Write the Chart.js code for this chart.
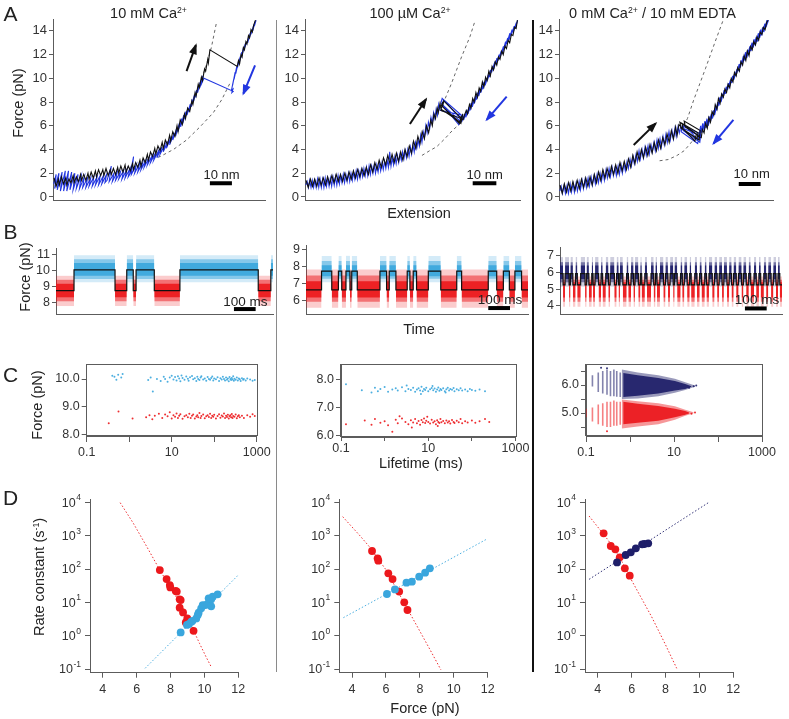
<!DOCTYPE html>
<html><head><meta charset="utf-8">
<script src="https://cdn.jsdelivr.net/npm/chart.js@4.4.1/dist/chart.umd.min.js"></script>
<style>
html,body{margin:0;padding:0;background:#fff}
body{width:789px;height:719px;position:relative;overflow:hidden;font-family:"Liberation Sans",Arial,Helvetica,sans-serif;color:#222}
canvas{position:absolute}
.t{position:absolute;white-space:nowrap;transform:translate(-50%,-50%);line-height:1}
.r{transform:translate(-50%,-50%) rotate(-90deg)}
sup{font-size:0.6em;vertical-align:0.6em;line-height:0}
.v{position:absolute;width:1.5px}
</style></head><body>
<script>
// ================= DATA =================
const aTicks = [0,2,4,6,8,10,12,14];
// Row A: force-extension traces [extension(nm), force(pN)]
const a1Stretch = [[0.5,1.6],[1.5,0.9],[2.5,1.5],[3,1.0],[4,1.7],[5,1.1],[6,1.6],[6.5,1.0],[7.5,1.5],[8.5,1.2],[9.5,1.8],[10,1.2],[11,1.7],[12,1.3],[13,1.9],[13.5,1.4],[14.5,1.9],[15.5,1.4],[16.5,2.0],[17,1.5],[18,2.1],[19,1.6],[20,2.2],[20.5,1.7],[21.5,2.3],[22.5,1.8],[23.5,2.3],[24,1.8],[25,2.4],[26,1.8],[27,2.3],[27.5,1.9],[28.5,2.4],[29.5,1.9],[30.5,2.5],[31,2.0],[32,2.6],[33,2.1],[34,2.7],[34.5,2.1],[35.5,2.6],[36.5,2.2],[37.5,2.8],[38,2.3],[39,2.9],[40,2.5],[41,3.1],[41.5,2.6],[42.5,3.3],[43.5,2.9],[44.5,3.6],[45,3.1],[46,3.8],[47,3.4],[48,4.1],[48.5,3.6],[49.5,4.3],[50.5,3.9],[51.5,4.6],[52,4.1],[53,4.8],[54,4.4],[55,5.2],[55.5,4.7],[56.5,5.5],[57.5,5.1],[58.5,6.0],[59,5.5],[60,6.5],[61,6.1],[62,7.0],[62.5,6.6],[63.5,7.5],[64.5,7.2],[65.5,8.1],[66,7.8],[67,8.8],[67.5,8.5],[68.5,9.5],[69,9.2],[70,10.1],[70.5,9.8],[71.5,10.8],[72,10.6],[73,11.6],[73.3,11.3],[74,12.4],[86.9,11.0],[87.5,11.5],[88,11.2],[88.7,12.0],[89.2,11.8],[89.8,12.6],[90.3,12.4],[91,13.1],[91.5,12.9],[92.2,13.6],[92.7,13.4],[93.4,14.1],[94,13.9],[94.7,14.5],[95.5,14.9]];
const a1Relax = [[95.8,14.9],[95.0,14.4],[95.4,14.8],[94.2,14.0],[94.7,14.5],[93.4,13.7],[93.9,14.1],[92.6,13.4],[93.1,13.8],[91.8,13.0],[92.3,13.4],[91.0,12.8],[91.5,13.1],[90.2,12.5],[90.7,12.9],[89.4,12.1],[89.9,12.6],[88.6,11.7],[89.1,12.2],[87.8,11.3],[88.3,11.8],[87.0,10.9],[87.5,11.4],[86.2,10.4],[86.7,11.0],[85.4,9.9],[85.9,10.5],[84.7,9.4],[85.2,9.9],[84.2,9.0],[84.9,9.1],[84.4,8.8],[85.0,8.9],[71.2,10.0],[70.2,9.6],[70.7,10.2],[69.2,9.2],[69.7,9.8],[68.2,8.8],[68.7,9.4],[67.2,8.4],[67.7,9.0],[66.2,8.0],[66.7,8.6],[65.2,7.6],[65.7,8.2],[64.2,7.2],[64.7,7.8],[63.2,6.9],[63.7,7.5],[62.2,6.6],[62.7,7.2],[61.2,6.2],[61.7,6.9],[60.2,5.9],[60.7,6.6],[59,5.5],[59.6,6.2],[57.8,5.1],[58.4,5.8],[56.5,4.8],[57.2,5.4],[55,4.4],[55.8,5.1],[53.5,4.1],[54.3,4.7],[52,3.8],[52.8,4.4],[50.5,3.6],[51.3,4.2],[49,3.3],[49.8,3.9],[47.5,3.1],[48.3,3.7],[46,2.9],[46.8,3.5],[44.5,2.7],[45.3,3.3],[43,2.5],[43.8,3.1],[41.5,2.3],[42.3,2.9],[40,2.1],[40.8,2.8],[38.5,2.0],[39.3,2.7],[37,1.9],[38,3.4],[36.5,2.0],[35.5,1.7],[36.3,2.4],[34,1.6],[34.8,2.3],[32.5,1.5],[33.3,2.2],[31,1.5],[31.8,2.1],[29.5,1.4],[30.3,2.1],[28,1.3],[28.8,2.0],[26.5,1.3],[27.5,2.6],[25.5,1.4],[24.5,1.2],[25.3,1.9],[23,1.1],[23.8,1.8],[21.5,1.0],[22.3,1.8],[20,1.0],[20.8,1.7],[18.5,0.9],[19.3,1.7],[17,0.9],[17.8,1.6],[15.5,0.8],[16.3,1.6],[14,0.8],[14.8,1.7],[12.5,0.7],[13.3,1.8],[11,0.7],[11.8,1.9],[9.5,0.6],[10.3,2.0],[8,0.6],[8.8,2.1],[6.5,0.5],[7.3,2.2],[5,0.5],[5.8,2.2],[3.5,0.5],[4.3,2.1],[2,0.6],[2.8,2.0],[0.8,0.7],[1.5,1.9],[0.3,1.1]];
const a1DashFolded = [[68,9.0],[70.2,10.0],[72.5,11.2],[74.7,12.6],[77,14.6]];
const a1DashUnfolded = [[44,3.1],[50.5,3.4],[56.8,4.0],[63,4.8],[69.3,5.9],[75.6,7.1],[79.6,8.2],[83.5,9.6]];
const a1Arrows = [[63,10.6,67.4,12.8],[95.3,11.1,89.8,8.7]];
const a1Bar = [74,84.4,1.15];

const a2Stretch = [[0.5,1.4],[1.5,0.8],[2.5,1.5],[3.5,0.9],[4.5,1.5],[5.5,0.9],[6.5,1.6],[7.5,1.0],[8.5,1.6],[9.5,1.0],[10.5,1.7],[11.5,1.1],[12.5,1.8],[13.5,1.2],[14.5,1.9],[15.5,1.3],[16.5,1.9],[17.5,1.3],[18.5,2.0],[19.5,1.4],[20.5,2.1],[21.5,1.5],[22.5,2.2],[23.5,1.6],[24.5,2.3],[25.5,1.7],[26.5,2.4],[27.5,1.8],[28.5,2.5],[29.5,1.9],[30.5,2.7],[31.5,2.1],[32.5,2.9],[33.5,2.3],[34.5,3.1],[35.5,2.5],[36.5,3.3],[37.5,2.7],[38.5,3.5],[39.5,2.8],[40.5,3.6],[41.5,2.9],[42.5,3.7],[43.5,3.0],[44.5,3.8],[45.5,3.1],[46.5,4.0],[47.5,3.4],[48.5,4.3],[49.5,3.7],[50.5,4.7],[51.5,4.1],[52.5,5.1],[53.5,4.5],[54.5,5.5],[55.5,4.9],[56.5,6.0],[57.5,5.4],[58.5,6.5],[59.2,6.0],[60,7.0],[60.7,6.6],[61.5,7.5],[62,7.1],[62.8,7.9],[63.3,7.4],[72.2,6.3],[72.8,6.8],[71.8,6.2],[63.5,7.7],[64.1,8.0],[63.2,7.3],[72.6,6.6],[73.4,7.0],[72.5,6.2],[64,7.6],[64.5,8.1],[73.5,6.5],[74.2,6.9],[73.6,6.6],[75,7.3],[75.6,7.0],[76.5,7.8],[77.2,7.5],[78,8.3],[78.7,8.0],[79.5,8.8],[80.2,8.4],[81,9.2],[81.7,8.9],[82.5,9.7],[83.2,9.3],[84,10.1],[84.7,9.8],[85.5,10.6],[86.2,10.2],[87,11.0],[87.7,10.7],[88.5,11.4],[89.2,11.1],[90,11.8],[90.7,11.6],[91.5,12.3],[92.2,12.0],[93,12.7],[93.7,12.5],[94.5,13.2],[95.2,13.0],[96,13.7],[96.7,13.6],[97.5,14.3],[98.2,14.2],[98.8,14.9]];
const a2Relax = [[98.9,14.9],[97.8,14.2],[98.3,14.7],[96.8,13.9],[97.3,14.4],[95.8,13.6],[96.3,14.1],[94.8,13.2],[95.3,13.8],[93.8,12.9],[94.3,13.4],[92.8,12.5],[93.3,13.1],[91.8,12.1],[92.3,12.7],[90.8,11.8],[91.3,12.3],[89.8,11.5],[90.3,12.0],[88.8,11.2],[89.3,11.7],[87.8,10.8],[88.3,11.4],[86.8,10.5],[87.3,11.0],[85.8,10.1],[86.3,10.7],[84.8,9.8],[85.3,10.3],[83.8,9.4],[84.3,10.0],[82.8,9.1],[83.3,9.7],[81.8,8.8],[82.3,9.4],[80.8,8.5],[81.3,9.1],[79.8,8.2],[80.3,8.8],[78.8,7.9],[79.3,8.5],[77.8,7.6],[78.3,8.2],[76.8,7.3],[77.3,7.9],[75.8,7.0],[76.3,7.6],[74.8,6.7],[75.3,7.3],[73.8,6.5],[74.3,7.0],[72.8,6.3],[73.3,6.8],[64.5,8.2],[63.8,7.8],[72,6.4],[72.8,6.9],[71.5,6.1],[63.2,7.9],[63.8,8.3],[72.3,6.6],[73,6.9],[62.8,7.3],[62.2,7.8],[61.6,6.9],[61,7.4],[60.4,6.6],[59.8,7.1],[59.2,6.2],[58.6,6.7],[58,5.8],[57.4,6.3],[56.8,5.4],[56.2,6.0],[55.6,5.0],[55,5.5],[54.4,4.6],[53.8,5.2],[53.2,4.3],[52.6,4.8],[52,4.1],[51.4,4.6],[50.8,3.8],[50.2,4.4],[49.6,3.6],[49,4.2],[48.4,3.4],[47.8,4.0],[47.2,3.3],[46.6,3.9],[46,3.2],[45.4,3.8],[44.8,3.1],[44.2,3.6],[43.6,2.9],[43,3.5],[42.4,2.8],[41.8,3.4],[41.2,2.7],[40.6,3.3],[40,2.6],[39.4,3.8],[38.8,2.5],[38.2,3.1],[37.6,2.4],[37,3.0],[36.4,2.3],[35.8,2.9],[35.2,2.2],[34.6,2.8],[34,2.1],[33.4,2.7],[32.8,2.0],[32.2,2.7],[31.6,2.0],[31,2.6],[30.4,1.9],[29.8,2.6],[29.2,1.8],[28.6,2.5],[28,1.8],[27.4,2.4],[26.8,1.7],[26.2,2.3],[25.6,1.6],[25,2.2],[24.4,1.5],[23.8,2.2],[23.2,1.5],[22.6,2.1],[22,1.4],[21.4,2.0],[20.8,1.3],[20.2,2.0],[19.6,1.3],[19,1.9],[18.4,1.2],[17.8,1.9],[17.2,1.2],[16.6,1.8],[16,1.1],[15.4,1.8],[14.8,1.0],[14.2,1.7],[13.6,1.0],[13,1.7],[12.4,0.9],[11.8,1.6],[11.2,0.9],[10.6,1.6],[10,0.9],[9.4,1.6],[8.8,0.8],[8.2,1.5],[7.6,0.8],[7,1.5],[6.4,0.8],[5.8,1.5],[5.2,0.8],[4.6,1.4],[4,0.8],[3.4,1.4],[2.8,0.8],[2.2,1.4],[1.6,0.8],[1,1.3],[0.4,1.0]];
const a2DashFolded = [[61,7.0],[64.3,7.9],[68.2,9.6],[72.8,11.8],[76.7,13.5],[79,14.8]];
const a2DashUnfolded = [[54.4,3.5],[58,3.9],[61.3,4.24],[65,4.9],[68.8,5.65],[72.3,6.2]];
const a2Arrows = [[48.8,6.15,56.3,8.24],[93.8,8.46,84.5,6.5]];
const a2Bar = [78,89,1.15];

const a3Stretch = [[0.5,1.0],[1.5,0.3],[2.5,1.1],[3.5,0.4],[4.5,1.2],[5.5,0.5],[6.5,1.3],[7.5,0.6],[8.5,1.4],[9.5,0.7],[10.5,1.5],[11.5,0.8],[12.5,1.6],[13.5,0.9],[14.5,1.7],[15.5,1.0],[16.5,1.9],[17.5,1.2],[18.5,2.1],[19.5,1.4],[20.5,2.3],[21.5,1.6],[22.5,2.4],[23.5,1.7],[24.5,2.6],[25.5,1.9],[26.5,2.7],[27.5,2.0],[28.5,2.9],[29.5,2.2],[30.5,3.0],[31.5,2.3],[32.5,3.2],[33.5,2.5],[34.5,3.5],[35.5,2.8],[36.5,3.8],[37.5,3.1],[38.5,4.0],[39.5,3.3],[40.5,4.2],[41.5,3.5],[42.5,4.4],[43.5,3.7],[44.5,4.6],[45.5,3.9],[46.5,4.8],[47.5,4.1],[48.5,5.0],[49.5,4.4],[50.5,5.3],[51.5,4.6],[52.5,5.6],[53.5,4.9],[54.5,5.9],[55.2,5.2],[56,6.1],[63.5,4.7],[64.2,5.3],[56.5,6.3],[57,5.8],[64.5,4.9],[65,5.4],[57.5,6.2],[58,5.7],[65.5,4.8],[66,5.6],[58.5,6.4],[59,5.9],[66.5,5.0],[67,5.7],[67.8,5.4],[68.5,6.2],[69.3,5.8],[70,6.7],[70.8,6.3],[71.5,7.2],[72.3,6.9],[73,7.8],[73.8,7.4],[74.5,8.3],[75.3,7.9],[76,8.7],[76.8,8.4],[77.5,9.1],[78.3,8.8],[79,9.5],[79.8,9.2],[80.5,10.0],[81.3,9.7],[82,10.5],[82.8,10.2],[83.5,10.9],[84.3,10.6],[85,11.4],[85.8,11.1],[86.5,11.9],[87.3,11.5],[88,12.3],[88.8,11.9],[89.5,12.7],[90.3,12.4],[91,13.1],[91.8,12.8],[92.5,13.5],[93.3,13.2],[94,13.9],[94.8,13.7],[95.5,14.3],[96.3,14.1],[97,14.7],[97.7,14.9]];
const a3Relax = [[97.9,14.9],[96.7,14.3],[97.2,14.9],[95.7,13.9],[96.2,14.6],[94.7,13.6],[95.2,14.3],[93.7,13.4],[94.2,14.1],[92.7,13.1],[93.2,13.8],[91.7,12.8],[92.2,13.5],[90.7,12.6],[91.2,13.3],[89.7,12.3],[90.2,13.0],[88.7,12.0],[89.2,12.7],[87.7,11.7],[88.2,12.4],[86.7,11.5],[87.2,12.2],[85.7,11.2],[86.2,11.9],[84.7,10.9],[85.2,11.5],[83.7,10.6],[84.2,11.2],[82.7,10.2],[83.2,10.8],[81.7,9.9],[82.2,10.5],[80.7,9.6],[81.2,10.2],[79.7,9.3],[80.2,9.9],[78.7,9.0],[79.2,9.6],[77.7,8.7],[78.2,9.3],[76.7,8.4],[77.2,9.0],[75.7,8.0],[76.2,8.7],[74.7,7.7],[75.2,8.4],[73.7,7.3],[74.2,8.0],[72.7,6.9],[73.2,7.6],[71.7,6.6],[72.2,7.3],[70.7,6.3],[71.2,7.0],[69.7,6.0],[70.2,6.8],[68.7,5.8],[69.2,6.6],[67.7,5.6],[68.2,6.4],[66.7,5.4],[67.2,6.2],[65.7,5.1],[66.2,6.0],[65,4.8],[58.5,6.1],[58,5.6],[65.8,4.6],[66.3,5.3],[57.6,6.0],[57.1,5.5],[64.8,4.5],[65.3,5.2],[56.8,5.9],[56.2,5.4],[55.6,5.9],[54.8,5.1],[54.2,5.8],[53.4,4.9],[52.8,5.6],[52,4.8],[51.4,5.5],[50.6,4.6],[50,5.3],[49.2,4.4],[48.6,5.1],[47.8,4.2],[47.2,4.9],[46.4,4.1],[45.8,4.8],[45,3.9],[44.4,4.6],[43.6,3.8],[43,4.4],[42.2,3.6],[41.6,4.3],[40.8,3.5],[40.2,4.2],[39.4,3.3],[38.8,4.0],[38,3.2],[37.4,3.9],[36.6,3.0],[36,3.6],[35.2,2.8],[34.6,3.4],[33.8,2.6],[33.2,3.2],[32.4,2.4],[31.8,3.0],[31,2.2],[30.4,2.8],[29.6,2.0],[29,2.7],[28.2,1.9],[27.6,2.6],[26.8,1.8],[26.2,2.5],[25.4,1.8],[24.8,2.5],[24,1.7],[23.4,2.4],[22.6,1.6],[22,2.3],[21.2,1.4],[20.6,2.1],[19.8,1.3],[19.2,2.0],[18.4,1.2],[17.8,1.9],[17,1.1],[16.4,1.8],[15.6,1.0],[15,1.7],[14.2,0.9],[13.6,1.6],[12.8,0.8],[12.2,1.5],[11.4,0.7],[10.8,1.4],[10,0.6],[9.4,1.3],[8.6,0.5],[8,1.2],[7.2,0.4],[6.6,1.1],[5.8,0.4],[5.2,1.1],[4.4,0.3],[3.8,1.0],[3,0.3],[2.4,1.0],[1.6,0.3],[1,0.9],[0.4,0.5]];
const a3DashFolded = [[57,5.6],[60,6.6],[63,8.2],[68.4,10.8],[73,13.1],[76.5,14.8]];
const a3DashUnfolded = [[47,3.05],[51,3.15],[55.2,3.5],[58.5,3.9],[61.4,4.5],[65,5.4]];
const a3Arrows = [[34.9,4.38,45.2,6.2],[81.5,6.5,72.2,4.5]];
const a3Bar = [84,94.2,1.1];

// Row B: dwell times (ms), alternating states
// levels: [mean, coreLo, coreHi, midLo, midHi, outerLo, outerHi]
const bTicks1 = [8,9,10,11], bTicks2 = [6,7,8,9], bTicks3 = [4,5,6,7];
const b1Dwell = [83,189,54,30,13,84,118,361,58,10];
const b2Dwell = [70,46,30,15,19,18,8,25,102,30,12,30,51,12,15,15,53,56,72,22,120,38,30,27,25,30,29];
const b3Dwell = [14,9,18,6,11,12,8,15,20,7,10,13,6,9,16,11,7,14,12,8,19,10,9,6,13,17,8,12,11,7,15,9,6,14,10,18,12,8,7,13,16,9,11,10,14,6,12,15,8,9,13,11,7,16,10,12,9,14,8,11,15,10,12,9,13,8,14,10,11,9,12,10,14,8,13,11,9,15,10,12,8,14,11,9,13,10,12,9,8,12];
const b1High = [10.03,9.65,10.45,9.45,10.7,9.25,10.95], b1Low = [8.72,8.3,9.15,8.05,9.4,7.75,9.65];
const b2High = [7.7,7.4,8.05,7.25,8.3,7.05,8.6], b2Low = [6.6,6.15,7.1,5.9,7.45,5.55,7.8];
const b3High = [5.92,5.6,6.4,5.4,6.6,5.15,6.9], b3Low = [5.25,4.5,5.4,4.25,5.55,3.95,5.75];
const b1Bar = [820,920,7.56], b2Bar = [821,919,5.53], b3Bar = [833,931,3.85];

// Row C: lifetime (ms) vs force (pN)
const cXTicks = [0.1,1,10,100,1000];
const c1Blue = [[0.4,10.12],[0.5,9.97],[0.55,10.15],[0.65,10.05],[0.7,10.18],[0.45,10.08],[3.6,9.55],[2.8,9.96],[3.2,10.05],[4.5,10.0],[5.5,9.93],[6.5,10.08],[7,10.0],[8,9.9],[9,10.05],[10,10.12],[11,9.98],[12,10.07],[13,9.95],[14,10.1],[15,10.02],[16,9.92],[17,10.13],[18,10.04],[20,9.97],[22,10.09],[24,10.01],[25,9.94],[27,10.06],[30,10.11],[32,9.99],[35,10.03],[38,9.93],[40,10.08],[42,10.0],[45,9.96],[48,10.05],[50,10.1],[55,9.98],[60,10.02],[65,9.94],[70,10.07],[75,10.0],[80,9.97],[85,10.04],[90,10.09],[95,9.95],[100,10.02],[110,9.99],[120,10.06],[130,9.93],[140,10.03],[150,9.98],[160,10.08],[170,10.0],[180,9.95],[190,10.05],[200,9.97],[210,10.02],[220,9.92],[230,10.07],[240,10.0],[250,9.96],[260,10.04],[270,9.98],[280,10.1],[290,9.94],[300,10.01],[320,9.97],[340,10.05],[360,9.95],[380,10.02],[400,9.99],[420,9.93],[450,10.03],[480,9.97],[500,10.0],[550,9.95],[600,10.02],[700,9.98],[800,9.94],[900,9.96]];
const c1Red = [[0.33,8.41],[0.56,8.83],[1.2,8.58],[2.5,8.62],[3,8.7],[3.5,8.55],[4,8.68],[5,8.75],[6,8.6],[7,8.72],[8,8.66],[9,8.8],[10,8.58],[11,8.7],[12,8.64],[13,8.76],[14,8.6],[15,8.68],[16,8.73],[18,8.57],[20,8.66],[22,8.7],[24,8.62],[26,8.75],[28,8.6],[30,8.68],[32,8.72],[35,8.58],[38,8.65],[40,8.7],[42,8.62],[45,8.78],[48,8.6],[50,8.67],[55,8.72],[60,8.59],[65,8.66],[70,8.7],[75,8.63],[80,8.75],[85,8.6],[90,8.68],[95,8.64],[100,8.71],[110,8.58],[120,8.67],[130,8.73],[140,8.61],[150,8.69],[160,8.65],[170,8.76],[180,8.6],[190,8.68],[200,8.63],[210,8.71],[220,8.58],[230,8.66],[240,8.7],[250,8.62],[260,8.74],[270,8.6],[280,8.67],[300,8.64],[320,8.72],[340,8.59],[360,8.66],[380,8.7],[400,8.62],[450,8.68],[500,8.6],[600,8.7],[700,8.64],[800,8.73],[900,8.67]];
const c2Blue = [[0.13,7.85],[0.3,7.63],[0.5,7.55],[0.6,7.72],[0.7,7.6],[0.8,7.68],[1,7.75],[1.2,7.58],[1.5,7.66],[1.8,7.7],[2,7.62],[2.5,7.74],[3,7.6],[3.5,7.68],[4,7.64],[4.5,7.72],[5,7.58],[5.5,7.66],[6,7.7],[6.5,7.62],[7,7.76],[7.5,7.6],[8,7.68],[8.5,7.64],[9,7.72],[10,7.6],[11,7.67],[12,7.71],[13,7.63],[14,7.69],[15,7.58],[16,7.66],[17,7.73],[18,7.61],[19,7.68],[20,7.64],[22,7.7],[24,7.6],[26,7.67],[28,7.72],[30,7.62],[32,7.68],[35,7.65],[38,7.71],[40,7.6],[45,7.67],[50,7.63],[55,7.7],[60,7.62],[70,7.66],[80,7.6],[90,7.68],[100,7.64],[120,7.61],[150,7.66],[200,7.6],[3.2,7.8],[6.8,7.5],[12.5,7.78],[25,7.55]];
const c2Red = [[0.13,6.42],[0.35,6.55],[0.5,6.4],[0.6,6.6],[0.8,6.47],[1,6.52],[1.2,6.38],[1.5,6.15],[1.8,6.58],[2,6.45],[2.5,6.62],[3,6.5],[3.5,6.42],[4,6.56],[4.5,6.48],[5,6.6],[5.5,6.45],[6,6.53],[6.5,6.4],[7,6.57],[7.5,6.49],[8,6.62],[8.5,6.46],[9,6.54],[10,6.5],[11,6.44],[12,6.58],[13,6.48],[14,6.52],[15,6.42],[16,6.56],[17,6.5],[18,6.46],[19,6.6],[20,6.49],[22,6.53],[24,6.45],[26,6.55],[28,6.48],[30,6.52],[32,6.44],[35,6.57],[38,6.5],[40,6.46],[45,6.54],[50,6.49],[55,6.6],[60,6.45],[70,6.52],[80,6.48],[100,6.55],[120,6.47],[150,6.52],[200,6.6],[250,6.5],[2.2,6.7],[4.2,6.3],[9.5,6.68],[16.5,6.35]];
// C3: discrete short-lifetime stripes [lifetime, forceLo, forceHi] and dense-cloud envelopes
const c3NavyStripes = [[0.14,5.95,6.35],[0.19,5.75,6.45],[0.24,5.7,6.5],[0.3,5.65,6.55],[0.36,5.6,6.5],[0.43,5.6,6.55],[0.5,5.58,6.5],[0.6,5.57,6.45]];
const c3RedStripes = [[0.1,4.85,5.15],[0.14,4.7,5.2],[0.19,4.6,5.3],[0.24,4.55,5.35],[0.3,4.5,5.4],[0.36,4.5,5.4],[0.43,4.55,5.45],[0.5,4.55,5.4],[0.6,4.58,5.4]];
const c3NavyOuterUp = [[0.65,6.55],[1.5,6.45],[4.4,6.35],[10.5,6.22],[18,6.1],[30,5.98]];
const c3NavyOuterLo = [[0.65,5.5],[1.5,5.52],[4.4,5.6],[10.5,5.72],[18,5.82],[30,5.94]];
const c3NavyUpper = [[0.7,6.43],[1.5,6.35],[4.4,6.25],[10.5,6.14],[18,6.04],[25,5.96]];
const c3NavyLower = [[0.7,5.57],[1.5,5.62],[4.4,5.7],[10.5,5.8],[18,5.86],[25,5.94]];
const c3RedOuterUp = [[0.65,5.48],[1.5,5.42],[4.4,5.35],[10.5,5.24],[18,5.12],[28,5.03]];
const c3RedOuterLo = [[0.65,4.45],[1.5,4.52],[4.4,4.6],[10.5,4.76],[18,4.9],[28,4.99]];
const c3RedUpper = [[0.7,5.4],[1.5,5.33],[4.4,5.25],[10.5,5.15],[18,5.07],[22,5.02]];
const c3RedLower = [[0.7,4.6],[1.5,4.65],[4.4,4.72],[10.5,4.85],[18,4.94],[22,4.98]];
const c3NavyDots = [[0.22,6.62],[0.3,6.6],[28,5.96],[32,5.98],[22,5.9]];
const c3RedDots = [[30,5.02],[25,4.97],[0.3,4.35]];

// Row D: force (pN) vs rate constant (1/s)
const dXTicks = [4,6,8,10,12];
const dYExp = [-1,0,1,2,3,4];
const d1Unfold = [[8.6,1.25],[8.97,2.1],[9.09,2.24],[9.23,2.63],[9.3,2.8],[9.52,3.3],[9.61,4.2],[9.66,4.9],[9.81,6.6],[9.9,8.3],[10.06,8.3],[10.19,8.9],[10.3,10.5],[10.4,12.3],[10.25,13.2],[10.49,14.8],[10.4,7.6],[10.78,17.4]];
const d1Refold = [[7.37,93],[7.77,50],[7.96,33],[7.99,28],[8.31,22],[8.37,21],[8.54,12.3],[8.6,11.7],[8.54,6.9],[8.74,5.0],[8.99,3.3],[8.9,2.5],[9.36,1.4]];
const d1UnfoldFit = [[6.5,0.105],[12.0,66]];
const d1RefoldFit = [[5.03,9770],[5.81,2340],[6.6,468],[7.37,93],[8.0,28],[8.6,8.9],[9.1,2.8],[9.71,0.59],[10.1,0.23],[10.4,0.117]];
const d2Unfold = [[6.06,17.8],[6.53,24.5],[7.21,38.9],[7.53,41.7],[7.96,58.9],[8.31,77.6],[8.59,105]];
const d2Refold = [[5.18,347],[5.51,209],[5.55,178],[6.14,74],[6.39,50],[6.78,21],[7.08,10],[7.27,5.9]];
const d2UnfoldFit = [[3.49,3.47],[11.92,776]];
const d2RefoldFit = [[3.45,3715],[4.5,955],[5.02,468],[6.0,95],[7.0,11.2],[7.96,1.48],[8.6,0.38],[9.24,0.095]];
const d3Unfold = [[5.14,158],[5.65,263],[5.95,316],[6.25,417],[6.62,550],[6.75,562],[6.98,589]];
const d3Refold = [[4.35,1175],[4.77,490],[5.04,389],[5.3,224],[5.6,105],[5.89,63]];
const d3UnfoldFit = [[3.49,49],[10.53,9772]];
const d3RefoldFit = [[3.49,3890],[4.61,741],[5.3,224],[5.99,46.8],[7.18,3.7],[7.96,0.59],[8.66,0.105]];

// ================= STYLE / HELPERS =================
const FONT = '"Liberation Sans", Arial, Helvetica, sans-serif';
const AXC = '#5c5c5c', TXC = '#333';
const BLK = '#111', BLU = '#2236e0';
const LB = [58,166,221], RD = [236,24,28], NV = [30,30,105];
const rgba = (c,a) => `rgba(${c[0]},${c[1]},${c[2]},${a})`;
const XY = a => a.map(p => ({x:p[0], y:p[1]}));
Chart.defaults.font.family = FONT;
Chart.defaults.color = TXC;

Chart.register({
  id:'arrowHeads',
  afterDatasetsDraw(c){
    const ctx = c.ctx;
    c.data.datasets.forEach((d,i)=>{
      if(!d.arrowHead) return;
      const pts = c.getDatasetMeta(i).data; if(pts.length<2) return;
      const p0 = pts[0], p1 = pts[pts.length-1];
      const ang = Math.atan2(p1.y-p0.y, p1.x-p0.x), L = 9, W = 4;
      ctx.save(); ctx.fillStyle = d.borderColor; ctx.beginPath();
      ctx.moveTo(p1.x+Math.cos(ang)*2, p1.y+Math.sin(ang)*2);
      ctx.lineTo(p1.x-Math.cos(ang)*L-Math.sin(ang)*W, p1.y-Math.sin(ang)*L+Math.cos(ang)*W);
      ctx.lineTo(p1.x-Math.cos(ang)*L+Math.sin(ang)*W, p1.y-Math.sin(ang)*L-Math.cos(ang)*W);
      ctx.closePath(); ctx.fill(); ctx.restore();
    });
  }
});
Chart.register({
  id:'frame',
  afterDraw(c, a, o){
    if(!o || !o.on) return;
    const {left,top,right,bottom} = c.chartArea, ctx = c.ctx;
    ctx.save(); ctx.strokeStyle = AXC; ctx.lineWidth = 1;
    ctx.strokeRect(Math.round(left)-0.5, Math.round(top)+0.5, Math.round(right)-Math.round(left)+1, Math.round(bottom)-Math.round(top)-1);
    ctx.restore();
  }
});
Chart.register({
  id:'supLabels',
  afterDraw(c, a, o){
    if(!o || !o.exps) return;
    const s = c.scales.y, ctx = c.ctx, x0 = c.chartArea.left - 9;
    ctx.save(); ctx.fillStyle = TXC; ctx.textAlign = 'right';
    o.exps.forEach(e=>{
      const y = s.getPixelForValue(Math.pow(10,e));
      const ex = String(e);
      ctx.font = '8.5px ' + FONT; ctx.textBaseline = 'alphabetic';
      const ew = ctx.measureText(ex).width;
      ctx.fillText(ex, x0, y - 2);
      ctx.font = '12.5px ' + FONT; ctx.textBaseline = 'middle';
      ctx.fillText('10', x0 - ew - 0.5, y + 1);
    });
    ctx.restore();
  }
});

function axis(o){
  return {
    type: o.type || 'linear', min: o.min, max: o.max,
    afterBuildTicks: o.ticks ? (s => { s.ticks = o.ticks.map(v => ({value:v})); }) : undefined,
    ticks: {display: !!o.labels, color: TXC, font: {family: FONT, size: o.font || 12.5}, padding: o.pad == null ? 2 : o.pad,
            maxRotation: 0, autoSkip: false, callback: o.labels || (v => v)},
    grid: {display: !!o.ticks, drawOnChartArea: false, drawTicks: true, tickLength: o.tl || 4, color: AXC, lineWidth: 1},
    border: {display: true, color: AXC, width: 1}
  };
}

function mk(box, datasets, xs, ys, plugins){
  const padL = 46, padR = 22, padT = 8, padB = 34;
  const cl = Math.round(box.l) - padL, ct = Math.round(box.t) - padT;
  const cw = Math.round(box.r) + padR - cl, ch = Math.round(box.b) + padB - ct;
  const cv = document.createElement('canvas');
  cv.width = cw; cv.height = ch;
  Object.assign(cv.style, {left: cl+'px', top: ct+'px', width: cw+'px', height: ch+'px'});
  document.body.appendChild(cv);
  const yW = box.l - cl, xH = ct + ch - box.b, pT = box.t - ct, pR = cl + cw - box.r;
  xs.position = 'bottom'; ys.position = 'left';
  xs.afterFit = s => { s.height = xH; s.paddingLeft = s.paddingRight = s.paddingTop = s.paddingBottom = 0; };
  ys.afterFit = s => { s.width = yW; s.paddingLeft = s.paddingRight = s.paddingTop = s.paddingBottom = 0; };
  return new Chart(cv, {
    type: 'line',
    data: {datasets},
    options: {
      responsive: false, animation: false, events: [], devicePixelRatio: 1,
      layout: {padding: {left: 0, top: pT, right: pR, bottom: 0}, autoPadding: false},
      scales: {x: xs, y: ys},
      plugins: Object.assign({legend: {display:false}, tooltip: {enabled:false}}, plugins || {}),
      elements: {line: {tension: 0}, point: {radius: 0}}
    }
  });
}

// ---------- Row A ----------
function aPanel(box, stretch, relax, dF, dU, arrows, bar){
  const ds = [
    {data: XY(dF), borderColor: '#666', borderWidth: 1, borderDash: [3,3], pointRadius: 0, order: 6},
    {data: XY(dU), borderColor: '#666', borderWidth: 1, borderDash: [3,3], pointRadius: 0, order: 6},
    {data: XY(relax), borderColor: BLU, borderWidth: 1.1, pointRadius: 0, order: 4},
    {data: XY(stretch), borderColor: BLK, borderWidth: 1.1, pointRadius: 0, order: 3},
    {data: [{x:arrows[0][0],y:arrows[0][1]},{x:arrows[0][2],y:arrows[0][3]}], borderColor: BLK, borderWidth: 2, pointRadius: 0, arrowHead: true, order: 1},
    {data: [{x:arrows[1][0],y:arrows[1][1]},{x:arrows[1][2],y:arrows[1][3]}], borderColor: BLU, borderWidth: 2, pointRadius: 0, arrowHead: true, order: 1},
    {data: [{x:bar[0],y:bar[2]},{x:bar[1],y:bar[2]}], borderColor: '#000', borderWidth: 4, borderCapStyle: 'butt', pointRadius: 0, order: 0}
  ];
  mk(box, ds,
     Object.assign(axis({min: 0, max: 100}), {ticks: {display:false}, grid: {display:false}}),
     axis({min: -0.3, max: 15, ticks: aTicks, labels: v => v, font: 13, pad: 2, tl: 4}));
}
aPanel({l:53, t:19, r:265, b:200.5}, a1Stretch, a1Relax, a1DashFolded, a1DashUnfolded, a1Arrows, a1Bar);
aPanel({l:305, t:19, r:520, b:200.5}, a2Stretch, a2Relax, a2DashFolded, a2DashUnfolded, a2Arrows, a2Bar);
aPanel({l:559, t:19, r:773, b:200.5}, a3Stretch, a3Relax, a3DashFolded, a3DashUnfolded, a3Arrows, a3Bar);

// ---------- Row B ----------
function bPanel(box, ymin, ymax, yt, dwell, start, hiLv, loLv, hiCol, loCol, bar){
  const ds = []; const mean = []; let t = 0, s = start;
  dwell.forEach(d => {
    const t1 = Math.min(t + d, 1000);
    if (t1 > t) {
      const L = s ? hiLv : loLv, C = s ? hiCol : loCol;
      ds.push({data: [{x:t,y:L[6]},{x:t1,y:L[6]}], fill: {value: L[5]}, backgroundColor: rgba(C,0.22), borderWidth: 0, pointRadius: 0, order: 7});
      ds.push({data: [{x:t,y:L[4]},{x:t1,y:L[4]}], fill: {value: L[3]}, backgroundColor: rgba(C,0.5), borderWidth: 0, pointRadius: 0, order: 6});
      ds.push({data: [{x:t,y:L[2]},{x:t1,y:L[2]}], fill: {value: L[1]}, backgroundColor: rgba(C,0.9), borderWidth: 0, pointRadius: 0, order: 5});
      mean.push({x:t,y:L[0]},{x:t1,y:L[0]});
    }
    t = t1; s = 1 - s;
  });
  ds.push({data: mean, borderColor: BLK, borderWidth: 1.2, pointRadius: 0, order: 1});
  ds.push({data: [{x:bar[0],y:bar[2]},{x:bar[1],y:bar[2]}], borderColor: '#000', borderWidth: 4, borderCapStyle: 'butt', pointRadius: 0, order: 0});
  mk(box, ds,
     Object.assign(axis({min: 0, max: 1000}), {ticks: {display:false}, grid: {display:false}}),
     axis({min: ymin, max: ymax, ticks: yt, labels: v => v, font: 12.5, pad: 2, tl: 4}));
}
bPanel({l:56, t:248, r:273, b:314}, 7.25, 11.4, bTicks1, b1Dwell, 0, b1High, b1Low, LB, RD, b1Bar);
bPanel({l:306, t:245, r:528, b:314}, 5.18, 9.24, bTicks2, b2Dwell, 0, b2High, b2Low, LB, RD, b2Bar);
bPanel({l:560, t:247, r:782, b:314}, 3.52, 7.5, bTicks3, b3Dwell, 1, b3High, b3Low, NV, RD, b3Bar);

// ---------- Row C ----------
const dots = (a, col, r) => ({data: XY(a), showLine: false, pointRadius: r || 1, pointBorderWidth: 0, pointBackgroundColor: col, borderColor: col, backgroundColor: col, order: 3});
const cX = (pad, tl) => axis({type:'logarithmic', min: 0.1, max: 1000, ticks: cXTicks, labels: v => ({0.1:'0.1',10:'10',1000:'1000'})[v] || '', font: 12.5, pad: pad, tl: tl});
function stripes(arr){ const out = []; arr.forEach(s => { out.push({x:s[0],y:s[1]},{x:s[0],y:s[2]},{x:s[0],y:null}); }); return out; }
mk({l:86.7, t:364, r:256.7, b:436}, [dots(c1Blue, rgba(LB,0.9)), dots(c1Red, rgba(RD,0.9))], cX(3, 6),
   axis({min: 7.95, max: 10.54, ticks: [8,9,10], labels: v => v.toFixed(1), font: 12.5, pad: 2, tl: 5}), {frame: {on: true}});
mk({l:341, t:364, r:515.5, b:437}, [dots(c2Blue, rgba(LB,0.9)), dots(c2Red, rgba(RD,0.9))], cX(0, 4),
   axis({min: 5.96, max: 8.57, ticks: [6,7,8], labels: v => v.toFixed(1), font: 12.5, pad: 2, tl: 5}), {frame: {on: true}});
mk({l:586, t:364, r:762, b:436}, [
    {data: stripes(c3NavyStripes), borderColor: rgba(NV,0.55), borderWidth: 1.6, pointRadius: 0, spanGaps: false, order: 6},
    {data: stripes(c3RedStripes), borderColor: rgba(RD,0.55), borderWidth: 1.6, pointRadius: 0, spanGaps: false, order: 6},
    {data: XY(c3NavyOuterUp), borderWidth: 0, backgroundColor: rgba(NV,0.45), fill: '+1', pointRadius: 0, order: 5},
    {data: XY(c3NavyOuterLo), borderWidth: 0, pointRadius: 0, order: 5},
    {data: XY(c3RedOuterUp), borderWidth: 0, backgroundColor: rgba(RD,0.45), fill: '+1', pointRadius: 0, order: 5},
    {data: XY(c3RedOuterLo), borderWidth: 0, pointRadius: 0, order: 5},
    {data: XY(c3NavyUpper), borderWidth: 0, backgroundColor: rgba(NV,0.92), fill: '+1', pointRadius: 0, order: 4},
    {data: XY(c3NavyLower), borderWidth: 0, pointRadius: 0, order: 4},
    {data: XY(c3RedUpper), borderWidth: 0, backgroundColor: rgba(RD,0.92), fill: '+1', pointRadius: 0, order: 4},
    {data: XY(c3RedLower), borderWidth: 0, pointRadius: 0, order: 4},
    dots(c3NavyDots, rgba(NV,0.9)), dots(c3RedDots, rgba(RD,0.9))
  ], cX(3, 6),
  axis({min: 4.18, max: 6.75, ticks: [4.5,5,5.5,6,6.5], labels: v => (v===5||v===6) ? v.toFixed(1) : '', font: 12.5, pad: 2, tl: 5}), {frame: {on: true}});

// ---------- Row D ----------
function dPanel(box, unf, ref, unfFit, refFit, unfCol){
  const ds = [
    {data: XY(unfFit), borderColor: rgba(unfCol,0.9), borderWidth: 1, borderDash: [1.5,2], pointRadius: 0, order: 5},
    {data: XY(refFit), borderColor: rgba(RD,0.9), borderWidth: 1, borderDash: [1.5,2], pointRadius: 0, order: 5},
    {data: XY(ref), showLine: false, pointRadius: 3.9, pointBorderWidth: 0, pointBackgroundColor: rgba(RD,1), order: 3},
    {data: XY(unf), showLine: false, pointRadius: 3.9, pointBorderWidth: 0, pointBackgroundColor: rgba(unfCol,1), order: 2}
  ];
  mk(box, ds,
     axis({min: 3.25, max: 12, ticks: dXTicks, labels: v => v, font: 12.5, pad: 4, tl: 5}),
     axis({type: 'logarithmic', min: 0.0776, max: 12590, ticks: dYExp.map(e => Math.pow(10,e)), labels: () => '', font: 12.5, pad: 2, tl: 5}),
     {supLabels: {exps: dYExp}});
}
dPanel({l:90, t:499, r:238.3, b:672.7}, d1Unfold, d1Refold, d1UnfoldFit, d1RefoldFit, LB);
dPanel({l:339.3, t:499, r:487.7, b:672.7}, d2Unfold, d2Refold, d2UnfoldFit, d2RefoldFit, LB);
dPanel({l:585, t:499, r:733.3, b:672.7}, d3Unfold, d3Refold, d3UnfoldFit, d3RefoldFit, NV);

// ---------- Text ----------
const texts = [
  ['10 mM Ca<sup>2+</sup>', 148.5, 12.7, 14.5, ''],
  ['100 µM Ca<sup>2+</sup>', 410, 12.7, 14.5, ''],
  ['0 mM Ca<sup>2+</sup> / 10 mM EDTA', 652.5, 12.7, 14.5, ''],
  ['A', 10.5, 12.5, 21, ''], ['B', 10.5, 231, 21, ''], ['C', 10.5, 373.5, 21, ''], ['D', 10.5, 497, 21, ''],
  ['Force (pN)', 18, 103, 14.5, 'r'], ['Force (pN)', 24.5, 277, 14.5, 'r'], ['Force (pN)', 36.7, 405, 14.5, 'r'],
  ['Rate constant (s<sup>-1</sup>)', 39, 577, 14.5, 'r'],
  ['Extension', 419, 213, 14.5, ''], ['Time', 419, 329, 14.5, ''], ['Lifetime (ms)', 421, 462.5, 14.5, ''], ['Force (pN)', 425, 708, 14.5, ''],
  ['10 nm', 221.5, 173.5, 13, ''], ['10 nm', 484.7, 173.5, 13, ''], ['10 nm', 751.7, 173, 13, ''],
  ['100 ms', 245.3, 302, 13.5, ''], ['100 ms', 500, 300, 13.5, ''], ['100 ms', 757, 300, 13.5, '']
];
texts.forEach(([h,x,y,fs,cls]) => {
  const d = document.createElement('div');
  d.className = 't ' + cls; d.innerHTML = h;
  Object.assign(d.style, {left: x+'px', top: y+'px', fontSize: fs+'px', color: '#222'});
  document.body.appendChild(d);
});
[[276.5,'#8a8a8a'],[533,'#111']].forEach(([x,c]) => {
  const d = document.createElement('div'); d.className = 'v';
  Object.assign(d.style, {left: (x-0.75)+'px', top: '20px', height: '652px', background: c});
  document.body.appendChild(d);
});
</script>
</body></html>
